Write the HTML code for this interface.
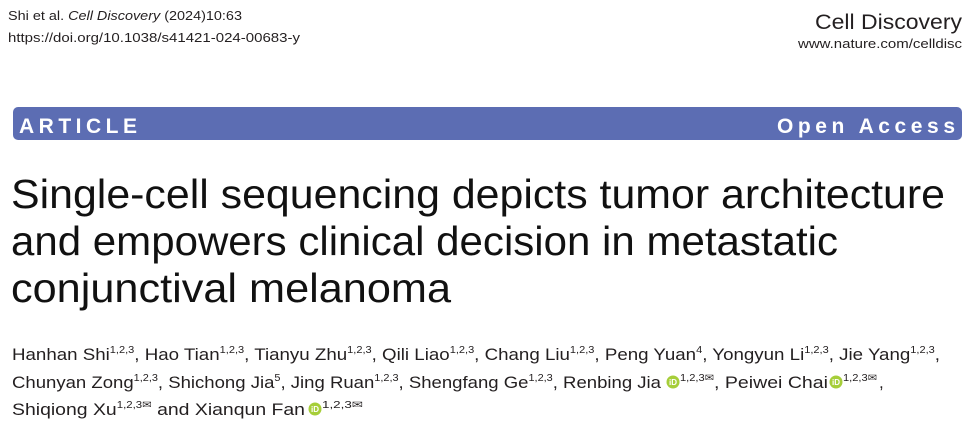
<!DOCTYPE html>
<html><head><meta charset="utf-8"><style>
html,body{margin:0;padding:0;background:#fff;width:974px;height:434px;overflow:hidden}
svg{display:block}
text{font-family:"Liberation Sans Narrow","Liberation Sans",sans-serif;fill:#231f20}
.s{font-size:10px}
</style></head><body>
<svg width="974" height="434" viewBox="0 0 974 434" xmlns="http://www.w3.org/2000/svg">
<text x="8" y="20" font-size="13" textLength="234" lengthAdjust="spacingAndGlyphs">Shi et al. <tspan font-style="italic">Cell Discovery</tspan> (2024)10:63</text>
<text x="8" y="42" font-size="13" textLength="292" lengthAdjust="spacingAndGlyphs">https://doi.org/10.1038/s41421-024-00683-y</text>
<text x="962" y="29" font-size="21" text-anchor="end" textLength="147" lengthAdjust="spacingAndGlyphs">Cell Discovery</text>
<text x="962" y="48" font-size="13" text-anchor="end" textLength="164" lengthAdjust="spacingAndGlyphs">www.nature.com/celldisc</text>
<rect x="13" y="107" width="949" height="33" rx="5" fill="#5c6db3"/>
<text x="19" y="133" font-size="21" font-weight="bold" style="fill:#fff;font-family:'Liberation Sans',sans-serif" textLength="118" lengthAdjust="spacing">ARTICLE</text>
<text x="955" y="133" font-size="21" font-weight="bold" text-anchor="end" style="fill:#fff;font-family:'Liberation Sans',sans-serif" textLength="178" lengthAdjust="spacing">Open Access</text>
<g font-size="41" style="font-family:'Liberation Sans',sans-serif">
<text x="11" y="208" textLength="934" lengthAdjust="spacingAndGlyphs" style="fill:#111">Single-cell sequencing depicts tumor architecture</text>
<text x="11" y="255" textLength="827" lengthAdjust="spacingAndGlyphs" style="fill:#111">and empowers clinical decision in metastatic</text>
<text x="11" y="302" textLength="440" lengthAdjust="spacingAndGlyphs" style="fill:#111">conjunctival melanoma</text>
</g>
<g font-size="17">
<text x="12" y="360" textLength="928" lengthAdjust="spacingAndGlyphs">Hanhan Shi<tspan class="s" dy="-7">1,2,3</tspan><tspan dy="7">, Hao Tian</tspan><tspan class="s" dy="-7">1,2,3</tspan><tspan dy="7">, Tianyu Zhu</tspan><tspan class="s" dy="-7">1,2,3</tspan><tspan dy="7">, Qili Liao</tspan><tspan class="s" dy="-7">1,2,3</tspan><tspan dy="7">, Chang Liu</tspan><tspan class="s" dy="-7">1,2,3</tspan><tspan dy="7">, Peng Yuan</tspan><tspan class="s" dy="-7">4</tspan><tspan dy="7">, Yongyun Li</tspan><tspan class="s" dy="-7">1,2,3</tspan><tspan dy="7">, Jie Yang</tspan><tspan class="s" dy="-7">1,2,3</tspan><tspan dy="7">,</tspan></text>
<text x="12" y="388" textLength="649" lengthAdjust="spacingAndGlyphs">Chunyan Zong<tspan class="s" dy="-7">1,2,3</tspan><tspan dy="7">, Shichong Jia</tspan><tspan class="s" dy="-7">5</tspan><tspan dy="7">, Jing Ruan</tspan><tspan class="s" dy="-7">1,2,3</tspan><tspan dy="7">, Shengfang Ge</tspan><tspan class="s" dy="-7">1,2,3</tspan><tspan dy="7">, Renbing Jia</tspan></text>
<text x="680" y="381" class="s" textLength="34" lengthAdjust="spacingAndGlyphs">1,2,3✉</text>
<text x="714" y="388" textLength="114" lengthAdjust="spacingAndGlyphs">, Peiwei Chai</text>
<text x="843" y="381" class="s" textLength="34" lengthAdjust="spacingAndGlyphs">1,2,3✉</text>
<text x="879" y="388">,</text>
<text x="12" y="415" textLength="293" lengthAdjust="spacingAndGlyphs">Shiqiong Xu<tspan class="s" dy="-7">1,2,3✉</tspan><tspan dy="7"> and Xianqun Fan</tspan></text>
<text x="322" y="408" class="s" textLength="41" lengthAdjust="spacingAndGlyphs">1,2,3✉</text>
</g>
<g fill="#a6ce39">
<circle cx="673" cy="382" r="6.5"/><circle cx="836" cy="382" r="6.5"/><circle cx="315" cy="409" r="6.5"/>
</g>
<g font-size="8" font-weight="bold" style="font-family:'Liberation Sans',sans-serif">
<text x="673" y="385" text-anchor="middle" style="fill:#fff">iD</text>
<text x="836" y="385" text-anchor="middle" style="fill:#fff">iD</text>
<text x="315" y="412" text-anchor="middle" style="fill:#fff">iD</text>
</g>
</svg>
</body></html>
